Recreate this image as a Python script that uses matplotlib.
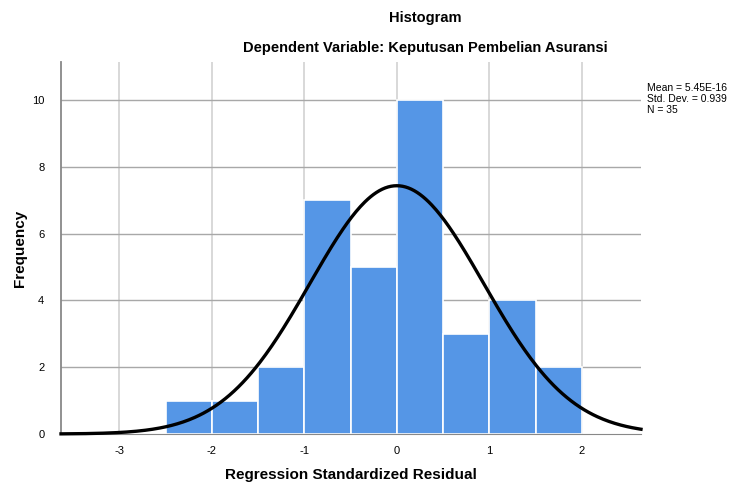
import numpy as np
import matplotlib
matplotlib.use("Agg")
import matplotlib.pyplot as plt

# histogram bins (regression standardized residual) and counts
bin_edges = [-2.5, -2.0, -1.5, -1.0, -0.5, 0.0, 0.5, 1.0, 1.5, 2.0]
counts = [1, 1, 2, 7, 5, 10, 3, 4, 2]
mean = 5.45e-16
std_dev = 0.939
n = 35

plt.rcParams['font.family'] = ['Liberation Sans', 'DejaVu Sans']
plt.rcParams['axes.unicode_minus'] = False

fig = plt.figure(figsize=(7.31, 4.84), dpi=100)
ax = fig.add_axes([61 / 731, 50 / 484, 580 / 731, 372 / 484])

ax.set_xlim(-3.63, 2.64)
ax.set_ylim(0, 11.14)

# grid: light vertical, darker horizontal
for x in [-3, -2, -1, 0, 1, 2]:
    ax.axvline(x, color='#d6d6d6', lw=1.3, zorder=0)
for y in [2, 4, 6, 8, 10]:
    ax.axhline(y, color='#a8a8a8', lw=1.0, zorder=0)

widths = np.diff(bin_edges)
ax.bar(bin_edges[:-1], counts, width=widths, align='edge',
       color='#5596e6', edgecolor='white', linewidth=1.2, zorder=2)

# normal curve scaled to counts
xs = np.linspace(-3.63, 2.64, 400)
bw = widths[0]
ys = n * bw / (std_dev * np.sqrt(2 * np.pi)) * np.exp(-0.5 * ((xs - mean) / std_dev) ** 2)
ax.plot(xs, ys, color='black', lw=2.4, zorder=3, clip_on=False)

ax.set_xticks([-3, -2, -1, 0, 1, 2])
ax.set_yticks([0, 2, 4, 6, 8, 10])
ax.tick_params(length=0, labelsize=8, pad=9)
ax.tick_params(axis='y', pad=12)

for side in ['top', 'right']:
    ax.spines[side].set_visible(False)
ax.spines['left'].set_color('#888888')
ax.spines['bottom'].set_color('#888888')
ax.spines['left'].set_linewidth(1.3)

fig.text(351 / 731, 1 - 475 / 484, 'Regression Standardized Residual', ha='center', va='center',
         fontsize=11, fontweight='bold')
fig.text(20 / 731, 1 - 248 / 484, 'Frequency', ha='center', va='center', rotation=90,
         fontsize=11, fontweight='bold')

fig.text(425 / 731, 1 - 18 / 484, 'Histogram', ha='center', va='center',
         fontsize=10.5, fontweight='bold')
fig.text(425 / 731, 1 - 48 / 484, 'Dependent Variable: Keputusan Pembelian Asuransi',
         ha='center', va='center', fontsize=10.5, fontweight='bold')

fig.text(647 / 731, 1 - 83 / 484,
         'Mean = %.2E\nStd. Dev. = %.3f\nN = %d' % (mean, std_dev, n),
         ha='left', va='top', fontsize=7.5, linespacing=1.15)

fig.savefig('out.png', dpi=100)
